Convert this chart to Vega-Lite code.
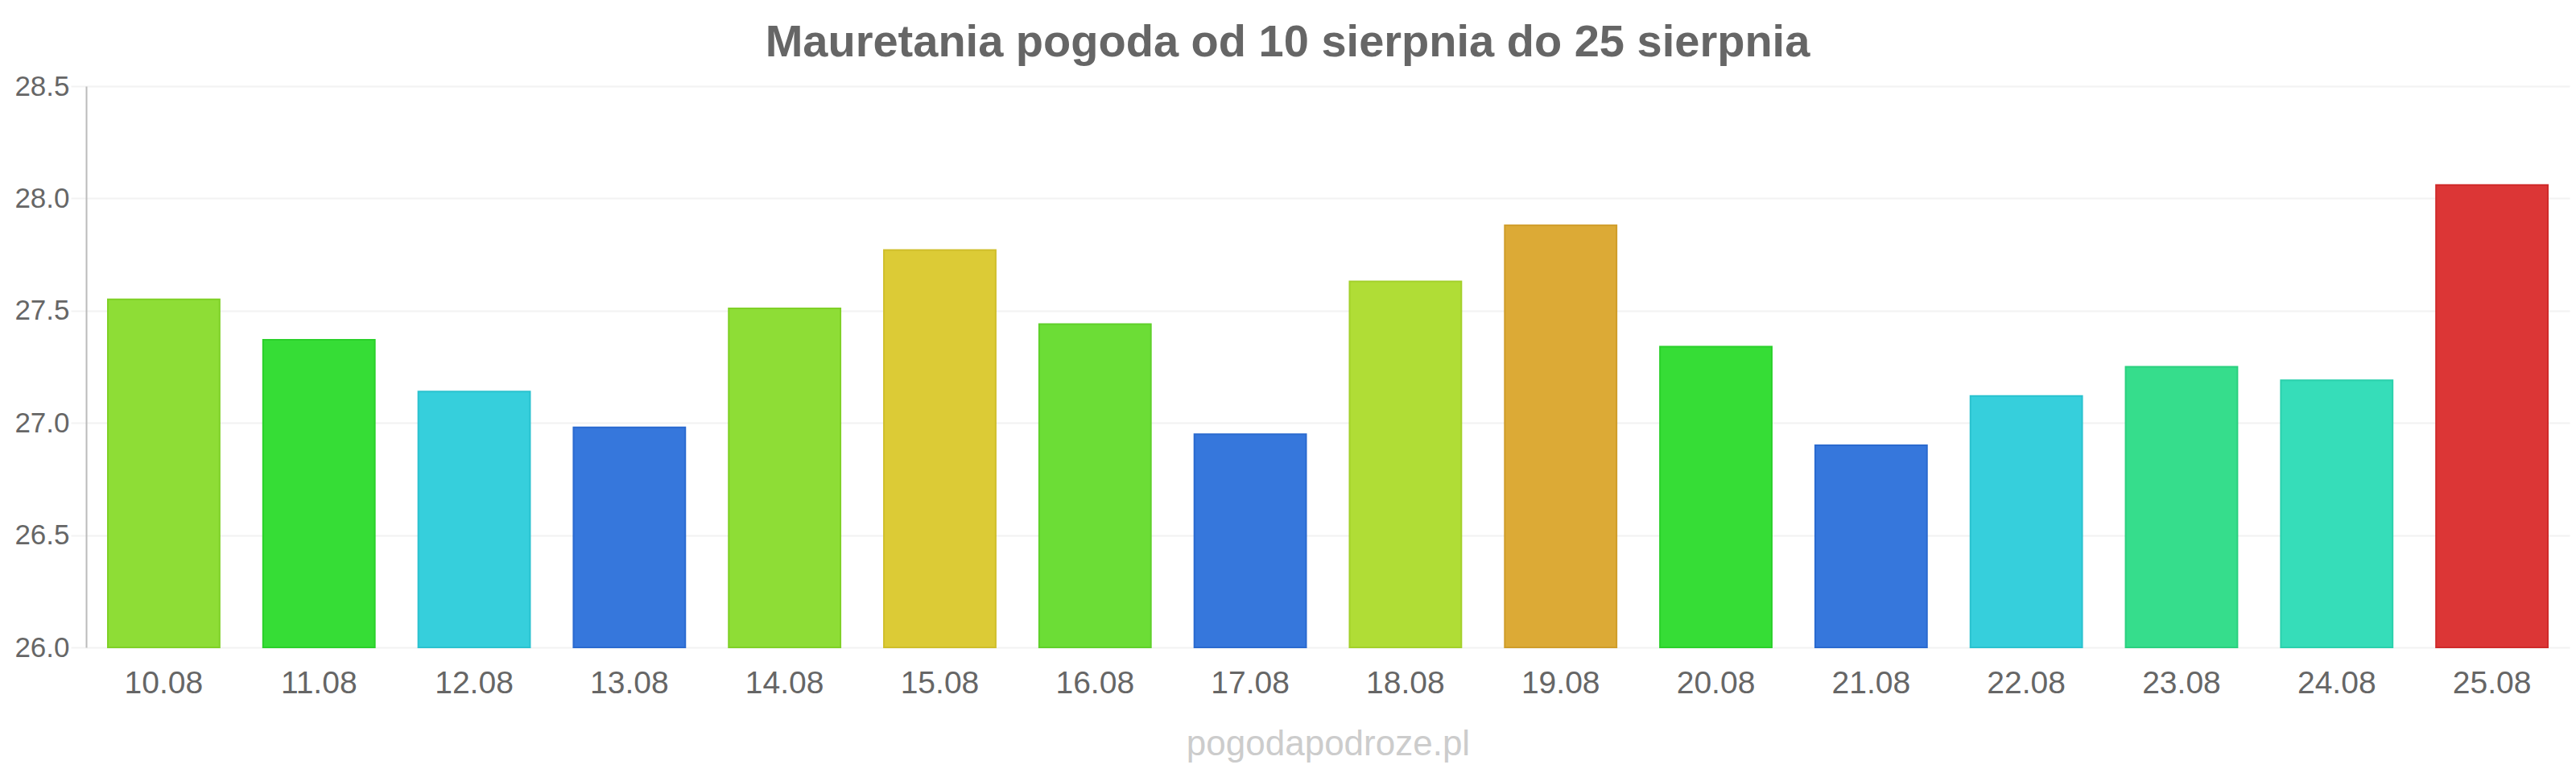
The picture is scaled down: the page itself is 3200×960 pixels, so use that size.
{
  "$schema": "https://vega.github.io/schema/vega-lite/v6.json",
  "autosize": "none",
  "width": 3085,
  "height": 697,
  "padding": {"left": 107, "top": 107, "right": 8, "bottom": 156},
  "background": "white",
  "title": {
    "text": "Mauretania pogoda od 10 sierpnia do 25 sierpnia",
    "font": "Liberation Sans",
    "fontSize": 56,
    "fontWeight": "bold",
    "color": "#666666",
    "anchor": "middle",
    "dx": -50,
    "offset": 8
  },
  "config": {
    "view": {"stroke": null},
    "font": "Liberation Sans"
  },
  "data": {
    "values": [
      {"date": "10.08", "temp": 27.55},
      {"date": "11.08", "temp": 27.37},
      {"date": "12.08", "temp": 27.14},
      {"date": "13.08", "temp": 26.98},
      {"date": "14.08", "temp": 27.51},
      {"date": "15.08", "temp": 27.77},
      {"date": "16.08", "temp": 27.44},
      {"date": "17.08", "temp": 26.95},
      {"date": "18.08", "temp": 27.63},
      {"date": "19.08", "temp": 27.88},
      {"date": "20.08", "temp": 27.34},
      {"date": "21.08", "temp": 26.9},
      {"date": "22.08", "temp": 27.12},
      {"date": "23.08", "temp": 27.25},
      {"date": "24.08", "temp": 27.19},
      {"date": "25.08", "temp": 28.06}
    ]
  },
  "mark": {"type": "bar", "strokeWidth": 2},
  "encoding": {
    "x": {
      "field": "date",
      "type": "nominal",
      "sort": null,
      "scale": {"paddingInner": 0.28, "paddingOuter": 0.14},
      "axis": {
        "title": "pogodapodroze.pl",
        "titleFont": "Liberation Sans",
        "titleFontSize": 44,
        "titleFontWeight": "normal",
        "titleColor": "#cccccc",
        "titlePadding": 34,
        "labelAngle": 0,
        "labelFontSize": 39,
        "labelColor": "#666666",
        "labelBaseline": "middle",
        "labelPadding": 44,
        "ticks": false,
        "domain": false,
        "grid": false
      }
    },
    "y": {
      "field": "temp",
      "type": "quantitative",
      "scale": {"domain": [26, 28.5], "zero": false, "nice": false},
      "axis": {
        "title": null,
        "values": [26, 26.5, 27, 27.5, 28, 28.5],
        "format": ".1f",
        "labelFontSize": 35,
        "labelColor": "#666666",
        "labelPadding": 2,
        "tickSize": 19,
        "tickColor": "#f2f2f2",
        "tickWidth": 2,
        "gridColor": "#f2f2f2",
        "gridWidth": 2,
        "domainColor": "#bbbbbb",
        "domainWidth": 2
      }
    },
    "y2": {"datum": 26},
    "fill": {
      "field": "date",
      "type": "nominal",
      "legend": null,
      "scale": {
        "domain": ["10.08", "11.08", "12.08", "13.08", "14.08", "15.08", "16.08", "17.08", "18.08", "19.08", "20.08", "21.08", "22.08", "23.08", "24.08", "25.08"],
        "range": ["#8edd36", "#36dd36", "#36cfdc", "#3677dc", "#8edd36", "#dccb36", "#6cdd36", "#3677dc", "#b0dd36", "#dcaa36", "#36dd36", "#3677dc", "#36cfdc", "#36dd8c", "#36ddb9", "#dc3636"]
      }
    },
    "stroke": {
      "field": "date",
      "type": "nominal",
      "legend": null,
      "scale": {
        "domain": ["10.08", "11.08", "12.08", "13.08", "14.08", "15.08", "16.08", "17.08", "18.08", "19.08", "20.08", "21.08", "22.08", "23.08", "24.08", "25.08"],
        "range": ["#7fd026", "#2ad02a", "#2ac2cf", "#2a6acf", "#7fd026", "#cfbe2a", "#5fd02a", "#2a6acf", "#a3d02a", "#cf9d2a", "#2ad02a", "#2a6acf", "#2ac2cf", "#2ad07f", "#2ad0ac", "#cf2a2a"]
      }
    }
  }
}
